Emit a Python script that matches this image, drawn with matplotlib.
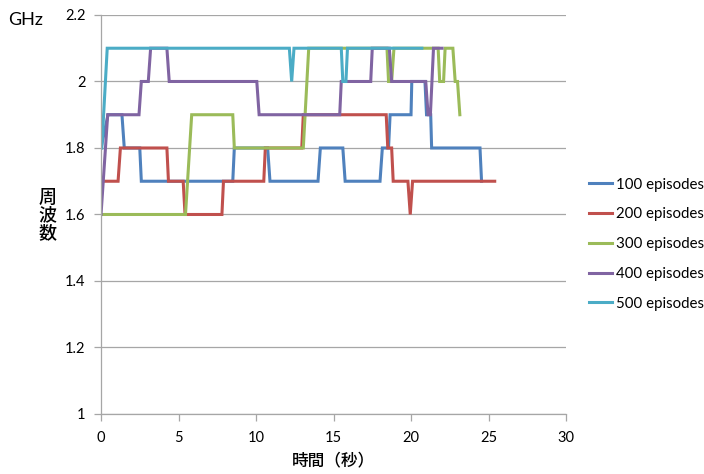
import matplotlib.pyplot as plt

plt.rcParams['font.family'] = ['Lato', 'Noto Sans CJK JP', 'DejaVu Sans']

# frequency steps per run: time (s) and clock (GHz)
t_100 = [0, 0.45, 1.35, 1.5, 2.5, 2.6, 8.5, 8.6, 10.75, 10.9, 14.0, 14.15, 15.6, 15.75,
         18.0, 18.15, 18.55, 18.65, 20.0, 20.05, 20.9, 21.0, 21.27, 21.33, 24.45, 24.55]
f_100 = [1.8, 1.9, 1.9, 1.8, 1.8, 1.7, 1.7, 1.8, 1.8, 1.7, 1.7, 1.8, 1.8, 1.7,
         1.7, 1.8, 1.8, 1.9, 1.9, 2.0, 2.0, 1.9, 1.9, 1.8, 1.8, 1.7]

t_200 = [0, 1.1, 1.25, 4.25, 4.35, 5.3, 5.42, 7.8, 7.9, 10.5, 10.6, 12.95, 13.05,
         18.4, 18.5, 18.75, 18.85, 19.8, 19.95, 20.1, 25.4]
f_200 = [1.7, 1.7, 1.8, 1.8, 1.7, 1.7, 1.6, 1.6, 1.7, 1.7, 1.8, 1.8, 1.9,
         1.9, 1.8, 1.8, 1.7, 1.7, 1.6, 1.7, 1.7]

t_300 = [0, 5.45, 5.85, 8.5, 8.6, 13.05, 13.4, 18.45, 18.55, 18.75, 18.9,
         21.75, 21.85, 22.1, 22.2, 22.7, 22.85, 23.0, 23.15]
f_300 = [1.6, 1.6, 1.9, 1.9, 1.8, 1.8, 2.1, 2.1, 2.0, 2.0, 2.1,
         2.1, 2.0, 2.0, 2.1, 2.1, 2.0, 2.0, 1.9]

t_400 = [0, 0.43, 2.45, 2.6, 3.05, 3.2, 4.25, 4.4, 10.05, 10.2, 15.4, 15.5,
         17.4, 17.5, 18.6, 18.75, 20.95, 21.1, 21.25, 21.45, 22.0]
f_400 = [1.6, 1.9, 1.9, 2.0, 2.0, 2.1, 2.1, 2.0, 2.0, 1.9, 1.9, 2.0,
         2.0, 2.1, 2.1, 2.0, 2.0, 1.9, 1.9, 2.1, 2.1]

t_500 = [0.05, 0.4, 12.15, 12.3, 12.45, 15.5, 15.6, 15.8, 15.9, 20.7]
f_500 = [1.8, 2.1, 2.1, 2.0, 2.1, 2.1, 2.0, 2.0, 2.1, 2.1]

runs = [
    ('100 episodes', t_100, f_100, '#4F81BD'),
    ('200 episodes', t_200, f_200, '#C0504D'),
    ('300 episodes', t_300, f_300, '#9BBB59'),
    ('400 episodes', t_400, f_400, '#8064A2'),
    ('500 episodes', t_500, f_500, '#4BACC6'),
]

fig = plt.figure(figsize=(7.04, 4.74), dpi=100)
ax = fig.add_axes([0.1435, 0.1266, 0.6605, 0.8418])

for label, t, f, c in runs:
    ax.plot(t, f, color=c, lw=2.2, label=label, solid_joinstyle='miter')

ax.set_xlim(0, 30)
ax.set_ylim(1, 2.2)
ax.set_xticks(range(0, 31, 5))
ax.set_yticks([1, 1.2, 1.4, 1.6, 1.8, 2, 2.2])
ax.set_yticklabels(['1', '1.2', '1.4', '1.6', '1.8', '2', '2.2'])
ax.yaxis.grid(True, color='#a6a6a6', lw=0.9)
ax.set_axisbelow(True)
for s in ['top', 'right']:
    ax.spines[s].set_visible(False)
for s in ['left', 'bottom']:
    ax.spines[s].set_color('#a6a6a6')
    ax.spines[s].set_linewidth(0.9)
ax.tick_params(axis='both', colors='#a6a6a6', length=5, width=0.9,
               labelcolor='black', labelsize=10.5)
ax.tick_params(axis='x', pad=7)
ax.tick_params(axis='y', pad=6)

ax.set_xlabel('時間（秒）', fontsize=12, fontweight='medium',
              family=['Noto Sans CJK JP'], labelpad=5)
fig.text(0.012, 0.957, 'GHz', fontsize=13, va='center', ha='left')
fig.text(0.068, 0.545, '周\n波\n数', fontsize=13, fontweight='medium',
         family=['Noto Sans CJK JP'], ha='center', va='center', linespacing=0.95)

fig.legend(loc='center left', bbox_to_anchor=(0.828, 0.485), frameon=False,
           fontsize=10.8, handlelength=1.55, handletextpad=0.25,
           labelspacing=1.05, borderaxespad=0)

fig.savefig('out.png', dpi=100)
